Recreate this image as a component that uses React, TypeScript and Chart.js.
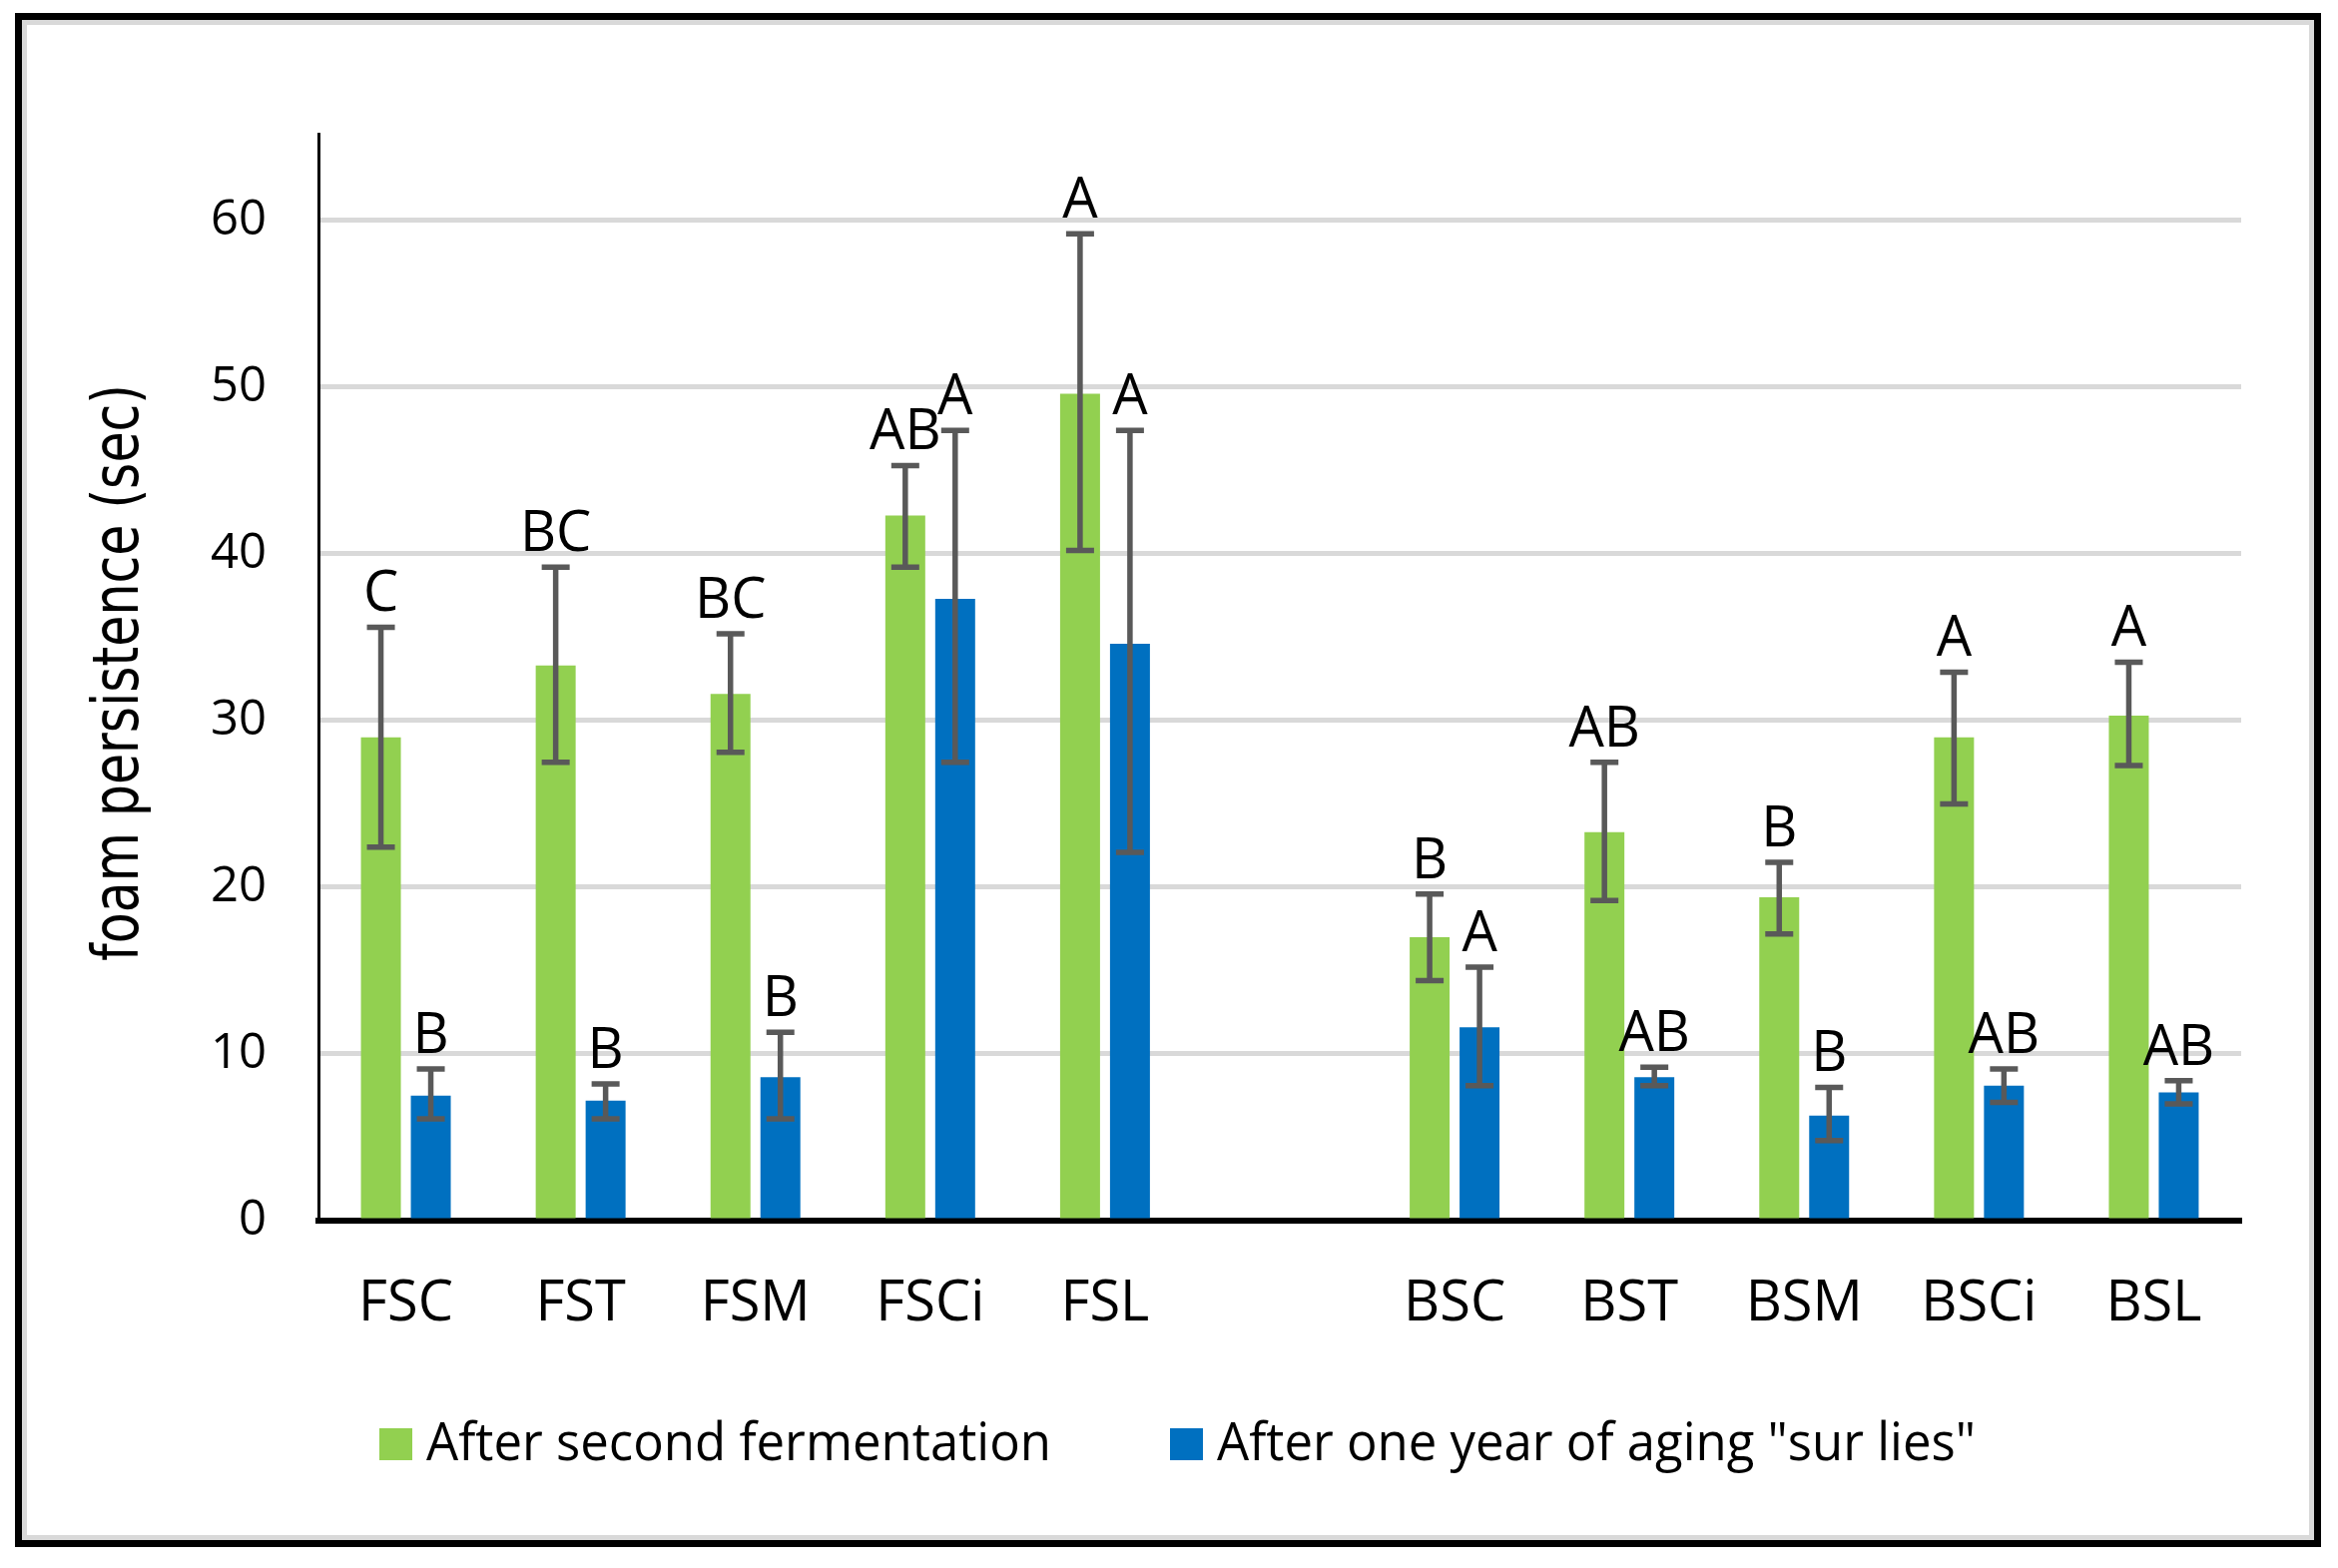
import React, { useEffect, useRef } from 'react';
import { Chart, registerables } from 'chart.js';

Chart.register(...registerables);

const W = 2342;
const H = 1571;

// ---- data ----
const categories = ['FSC', 'FST', 'FSM', 'FSCi', 'FSL', '', 'BSC', 'BST', 'BSM', 'BSCi', 'BSL'];
const seriesNames = ['After second fermentation', 'After one year of aging "sur lies"'];
const afterSecondFermentation = [29.0, 33.3, 31.6, 42.3, 49.6, null, 17.0, 23.3, 19.4, 29.0, 30.3];
const afterSecondHigh = [35.6, 39.2, 35.2, 45.3, 59.2, null, 19.6, 27.5, 21.5, 32.9, 33.5];
const afterSecondLow = [22.4, 27.5, 28.1, 39.2, 40.2, null, 14.4, 19.2, 17.2, 25.0, 27.3];
const afterOneYear = [7.5, 7.2, 8.6, 37.3, 34.6, null, 11.6, 8.6, 6.3, 8.1, 7.7];
const afterOneYearHigh = [9.1, 8.2, 11.3, 47.4, 47.4, null, 15.2, 9.2, 8.0, 9.1, 8.4];
const afterOneYearLow = [6.1, 6.1, 6.1, 27.5, 22.1, null, 8.1, 8.1, 4.8, 7.1, 7.0];
const secondLetters = ['C', 'BC', 'BC', 'AB', 'A', '', 'B', 'AB', 'B', 'A', 'A'];
const oneYearLetters = ['B', 'B', 'B', 'A', 'A', '', 'A', 'AB', 'B', 'AB', 'AB'];
const yTicks = [0, 10, 20, 30, 40, 50, 60];
const yTitle = 'foam persistence (sec)';

const GREEN = '#92D050';
const BLUE = '#0070C0';
const FONT = "'Open Sans'";

export default function App() {
  const ref = useRef<HTMLCanvasElement>(null);

  useEffect(() => {
    document.body.style.margin = '0';
    const canvas = ref.current!;

    const framePlugin = {
      id: 'frame',
      beforeDraw(chart: any) {
        const ctx = chart.ctx;
        ctx.save();
        ctx.fillStyle = '#ffffff';
        ctx.fillRect(0, 0, W, H);
        ctx.strokeStyle = '#000000';
        ctx.lineWidth = 7;
        ctx.strokeRect(18.5, 16.5, 2303, 1530);
        ctx.strokeStyle = '#d9d9d9';
        ctx.lineWidth = 5;
        ctx.strokeRect(24.5, 22.5, 2291, 1518);
        ctx.restore();
      },
    };

    const lows = [afterSecondLow, afterOneYearLow];
    const highs = [afterSecondHigh, afterOneYearHigh];
    const letters = [secondLetters, oneYearLetters];

    const errorPlugin = {
      id: 'errors',
      afterDatasetsDraw(chart: any) {
        const ctx = chart.ctx;
        const y = chart.scales.y;
        ctx.save();
        for (let di = 0; di < 2; di++) {
          const meta = chart.getDatasetMeta(di);
          meta.data.forEach((bar: any, i: number) => {
            const lo = lows[di][i];
            const hi = highs[di][i];
            if (lo == null || hi == null) return;
            const cx = bar.x;
            const yt = y.getPixelForValue(hi);
            const yb = y.getPixelForValue(lo);
            ctx.strokeStyle = '#595959';
            ctx.lineWidth = 5.5;
            ctx.beginPath();
            ctx.moveTo(cx, yt);
            ctx.lineTo(cx, yb);
            ctx.moveTo(cx - 14, yt);
            ctx.lineTo(cx + 14, yt);
            ctx.moveTo(cx - 14, yb);
            ctx.lineTo(cx + 14, yb);
            ctx.stroke();
            const t = letters[di][i];
            if (t) {
              ctx.fillStyle = '#000000';
              ctx.font = `56px ${FONT}`;
              ctx.textAlign = 'center';
              ctx.textBaseline = 'alphabetic';
              ctx.fillText(t, cx, yt - 16);
            }
          });
        }
        ctx.restore();
      },
    };

    const decorPlugin = {
      id: 'decor',
      afterDraw(chart: any) {
        const ctx = chart.ctx;
        ctx.save();
        // y title
        ctx.translate(138, 674);
        ctx.rotate(-Math.PI / 2);
        ctx.font = `64px 'DejaVu Sans'`;
        const tw = ctx.measureText(yTitle).width;
        ctx.scale(578 / tw, 1);
        ctx.fillStyle = '#000000';
        ctx.textAlign = 'center';
        ctx.textBaseline = 'alphabetic';
        ctx.fillText(yTitle, 0, 0);
        ctx.restore();

        // legend
        const items = [
          { color: GREEN, box: 380, text: 427, width: 626 },
          { color: BLUE, box: 1172, text: 1219, width: 760 },
        ];
        items.forEach((it, k) => {
          ctx.save();
          ctx.fillStyle = it.color;
          ctx.fillRect(it.box, 1431, 33, 32);
          ctx.font = `53px ${FONT}`;
          const w = ctx.measureText(seriesNames[k]).width;
          ctx.translate(it.text, 1463);
          ctx.scale(it.width / w, 1);
          ctx.fillStyle = '#000000';
          ctx.textAlign = 'left';
          ctx.textBaseline = 'alphabetic';
          ctx.fillText(seriesNames[k], 0, 0);
          ctx.restore();
        });
      },
    };

    const chart = new Chart(canvas, {
      type: 'bar',
      data: {
        labels: categories,
        datasets: [
          {
            label: seriesNames[0],
            data: afterSecondFermentation,
            backgroundColor: GREEN,
            categoryPercentage: 0.571,
            barPercentage: 0.8,
          },
          {
            label: seriesNames[1],
            data: afterOneYear,
            backgroundColor: BLUE,
            categoryPercentage: 0.571,
            barPercentage: 0.8,
          },
        ],
      },
      options: {
        responsive: false,
        animation: false,
        devicePixelRatio: 1,
        layout: { padding: { left: 0, right: 97, top: 134, bottom: 0 } },
        plugins: { legend: { display: false }, tooltip: { enabled: false } },
        scales: {
          x: {
            grid: { display: false, drawTicks: false },
            border: { color: '#000000', width: 6 },
            ticks: { font: { family: FONT, size: 56 }, color: '#000000', padding: 50, maxRotation: 0, autoSkip: false },
            afterFit(s: any) {
              s.height = H - 1223;
            },
          },
          y: {
            min: 0,
            max: 65.2,
            afterBuildTicks(s: any) {
              s.ticks = yTicks.map((v) => ({ value: v }));
            },
            grid: { color: '#d9d9d9', lineWidth: 5, drawTicks: false },
            border: { color: '#000000', width: 3 },
            ticks: { font: { family: FONT, size: 49 }, color: '#000000', padding: 52 },
            afterFit(s: any) {
              s.width = 319;
            },
          },
        },
      },
      plugins: [framePlugin, errorPlugin, decorPlugin],
    } as any);

    return () => chart.destroy();
  }, []);

  return <canvas ref={ref} width={W} height={H} style={{ display: 'block' }} />;
}
